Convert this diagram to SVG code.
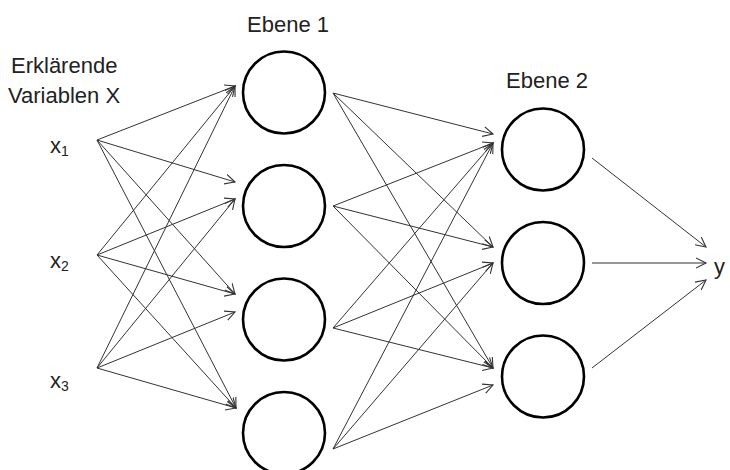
<svg xmlns="http://www.w3.org/2000/svg" width="730" height="470" viewBox="0 0 730 470">
<style>
.t{font-family:"Liberation Sans",Arial,sans-serif;font-size:22px;fill:#222}
.s{font-size:14px}
.n{fill:#fff;stroke:#000;stroke-width:2.6}
.e{stroke:#333;stroke-width:1;fill:none;marker-end:url(#a)}
</style>
<defs>
<marker id="a" markerUnits="userSpaceOnUse" markerWidth="12" markerHeight="12" refX="10" refY="5" orient="auto" viewBox="0 0 12 10">
<path d="M0,0 L10,5 L0,10" fill="none" stroke="#333" stroke-width="1.1"/>
</marker>
</defs>
<rect width="730" height="470" fill="#fff"/>
<g id="labels">
<text class="t" x="247" y="32">Ebene 1</text>
<text class="t" x="506" y="88">Ebene 2</text>
<text class="t" x="11" y="73">Erklärende</text>
<text class="t" x="8" y="103">Variablen X</text>
</g>
<g id="x1"><text class="t" x="50" y="153">x<tspan class="s" dy="3">1</tspan></text></g>
<g id="x2"><text class="t" x="50" y="268">x<tspan class="s" dy="3">2</tspan></text></g>
<g id="x3"><text class="t" x="50" y="388">x<tspan class="s" dy="3">3</tspan></text></g>
<g id="y"><text class="t" x="714" y="274">y</text></g>
<g id="h1_1"><circle class="n" cx="284" cy="92.5" r="41"/></g>
<g id="h1_2"><circle class="n" cx="284" cy="206" r="41"/></g>
<g id="h1_3"><circle class="n" cx="284" cy="319.5" r="41"/></g>
<g id="h1_4"><circle class="n" cx="284" cy="433" r="41"/></g>
<g id="h2_1"><circle class="n" cx="543" cy="149.5" r="41"/></g>
<g id="h2_2"><circle class="n" cx="543" cy="263" r="41"/></g>
<g id="h2_3"><circle class="n" cx="543" cy="376.5" r="41"/></g>
<g id="connectors">
<line class="e" x1="97" y1="140" x2="235" y2="86"/>
<line class="e" x1="97" y1="255" x2="235" y2="86"/>
<line class="e" x1="97" y1="368" x2="235" y2="86"/>
<line class="e" x1="97" y1="140" x2="235" y2="182"/>
<line class="e" x1="97" y1="255" x2="235" y2="199"/>
<line class="e" x1="97" y1="368" x2="235" y2="199"/>
<line class="e" x1="97" y1="140" x2="235" y2="294"/>
<line class="e" x1="97" y1="255" x2="235" y2="294"/>
<line class="e" x1="97" y1="368" x2="235" y2="312"/>
<line class="e" x1="97" y1="140" x2="236" y2="408"/>
<line class="e" x1="97" y1="255" x2="236" y2="408"/>
<line class="e" x1="97" y1="368" x2="236" y2="408"/>
<line class="e" x1="333" y1="93" x2="493" y2="134"/>
<line class="e" x1="333" y1="206" x2="493" y2="143"/>
<line class="e" x1="333" y1="328" x2="493" y2="143"/>
<line class="e" x1="333" y1="449" x2="493" y2="143"/>
<line class="e" x1="333" y1="93" x2="493" y2="247"/>
<line class="e" x1="333" y1="206" x2="493" y2="247"/>
<line class="e" x1="333" y1="328" x2="493" y2="263"/>
<line class="e" x1="333" y1="449" x2="493" y2="263"/>
<line class="e" x1="333" y1="93" x2="493" y2="368"/>
<line class="e" x1="333" y1="206" x2="493" y2="368"/>
<line class="e" x1="333" y1="328" x2="493" y2="368"/>
<line class="e" x1="333" y1="449" x2="493" y2="385"/>
<line class="e" x1="592" y1="158" x2="706" y2="247"/>
<line class="e" x1="592" y1="263" x2="706" y2="263"/>
<line class="e" x1="592" y1="368" x2="706" y2="280"/>
</g>
</svg>
